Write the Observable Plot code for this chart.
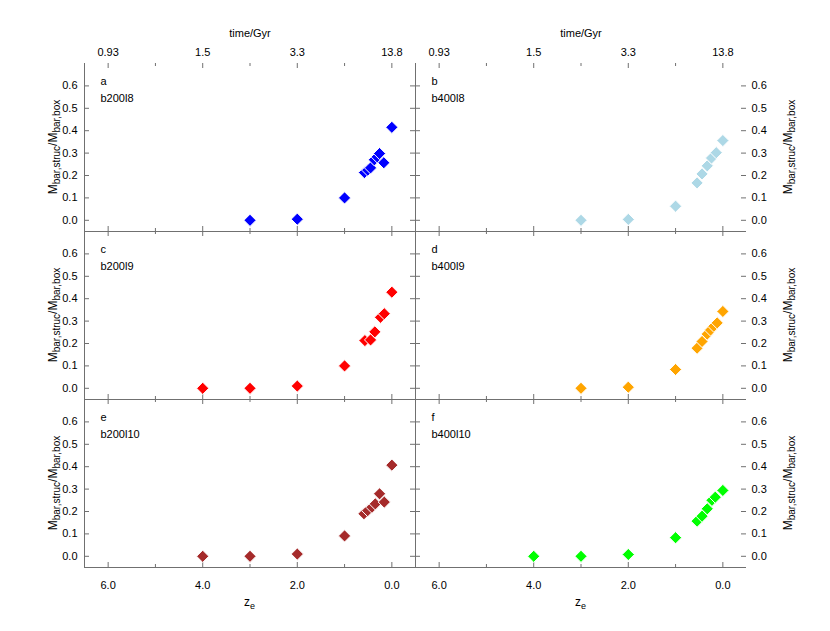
<!DOCTYPE html>
<html><head><meta charset="utf-8">
<script src="https://cdn.jsdelivr.net/npm/d3@7"></script>
<script src="https://cdn.jsdelivr.net/npm/@observablehq/plot@0.6"></script>
<style>
html,body{margin:0;padding:0;background:#fff;}
#chart{position:relative;width:830px;height:631px;overflow:hidden;background:#fff;font-family:"Liberation Sans",Arial,sans-serif;}
#chart svg{position:absolute;overflow:visible;}
</style></head><body><div id="chart"></div>
<script>
// ---- tick definitions ----
const zTicksAll = [6,5,4,3,2,1,0];
const zTicksMajor = [6,4,2,0];
const zTicksMinor = [5,3,1];
const zTickLabels = ["6.0","4.0","2.0","0.0"];
const timeTickLabels = ["0.93","1.5","3.3","13.8"];
const yTicks = [0,0.1,0.2,0.3,0.4,0.5,0.6];

// ---- panels ----
const panelLetters = ["a","b","c","d","e","f"];
const runNames = ["b200l8","b400l8","b200l9","b400l9","b200l10","b400l10"];
const runColors = ["#0000ff","#add8e6","#ff0000","#ffa500","#a52a2a","#00ff00"];

// ---- data: redshift z_e and M_bar,struc/M_bar,box ----
const zB200l8 = [3,2,1,0.58,0.51,0.45,0.37,0.31,0.26,0.17,0];
const fB200l8 = [0.0,0.005,0.10,0.213,0.224,0.234,0.27,0.283,0.298,0.257,0.415];
const zB400l8 = [3,2,1,0.545,0.44,0.33,0.24,0.14,0];
const fB400l8 = [0.0,0.004,0.063,0.167,0.207,0.243,0.278,0.302,0.356];
const zB200l9 = [4,3,2,1,0.57,0.45,0.36,0.24,0.16,0];
const fB200l9 = [0.0,0.0,0.01,0.10,0.213,0.216,0.252,0.317,0.333,0.429];
const zB400l9 = [3,2,1,0.545,0.44,0.33,0.26,0.19,0.12,0];
const fB400l9 = [0.0,0.005,0.084,0.179,0.209,0.242,0.26,0.277,0.292,0.343];
const zB200l10 = [4,3,2,1,0.59,0.51,0.42,0.35,0.26,0.16,0];
const fB200l10 = [0.0,0.0,0.01,0.091,0.19,0.204,0.219,0.234,0.279,0.242,0.407];
const zB400l10 = [4,3,2,1,0.545,0.44,0.33,0.23,0.16,0];
const fB400l10 = [0.0,0.0,0.008,0.083,0.157,0.179,0.212,0.25,0.264,0.294];

const zSeries = [zB200l8,zB400l8,zB200l9,zB400l9,zB200l10,zB400l10];
const fSeries = [fB200l8,fB400l8,fB200l9,fB400l9,fB200l10,fB400l10];

const W = 331, H = 168;
const AX = "#707070";
const FONT = '"Liberation Sans", Arial, sans-serif';
const chart = document.getElementById("chart");

function addYTitle(svg, x, y) {
  const t = d3.select(svg).append("text")
    .attr("transform", `translate(${x},${y}) rotate(-90)`)
    .attr("text-anchor", "middle").attr("font-size", 12)
    .attr("font-family", FONT).attr("fill", "#000");
  t.append("tspan").text("M");
  t.append("tspan").attr("font-size", 10).attr("dy", 3).text("bar,struc");
  t.append("tspan").attr("dy", -3).text("/M");
  t.append("tspan").attr("font-size", 10).attr("dy", 3).text("bar,box");
}

function addXTitle(svg, x, y) {
  const t = d3.select(svg).append("text")
    .attr("x", x).attr("y", y)
    .attr("text-anchor", "middle").attr("font-size", 12)
    .attr("font-family", FONT).attr("fill", "#000");
  t.append("tspan").text("z");
  t.append("tspan").attr("font-size", 9).attr("dy", 3).text("e");
}

for (let i = 0; i < 6; i++) {
  const col = i % 2, row = Math.floor(i / 2);
  const mL = col === 0 ? 84 : 0;
  const mR = col === 1 ? 83 : 0;
  const mT = row === 0 ? 63 : 0;
  const mB = row === 2 ? 64 : 0;
  const data = zSeries[i].map((z, k) => ({z, f: fSeries[i][k]}));

  const marks = [
    // frame lines
    Plot.ruleY([-0.05], {stroke: AX}),
    col === 0 ? Plot.ruleX([6.5], {stroke: AX}) : null,
    col === 0 ? Plot.ruleX([-0.5], {stroke: AX}) : Plot.ruleX([6.5], {stroke: AX}),
    // inward ticks
    Plot.tickY(yTicks, {y: d => d, insetRight: W - 5, stroke: AX}),
    Plot.tickY(yTicks, {y: d => d, insetLeft: W - 5, stroke: AX}),
    Plot.tickX(zTicksMajor, {x: d => d, insetBottom: H - 5, stroke: AX}),
    Plot.tickX(zTicksMinor, {x: d => d, insetBottom: H - 3, stroke: AX}),
    Plot.tickX(zTicksMajor, {x: d => d, insetTop: H - 5, stroke: AX}),
    Plot.tickX(zTicksMinor, {x: d => d, insetTop: H - 3, stroke: AX}),
    // y tick labels
    col === 0
      ? Plot.axisY({anchor: "left", ticks: yTicks, tickFormat: d3.format(".1f"), tickSize: 0, tickPadding: 7, label: null})
      : Plot.axisY({anchor: "right", ticks: yTicks, tickFormat: d3.format(".1f"), tickSize: 0, tickPadding: 5, label: null}),
    // top time axis
    row === 0 ? Plot.axisX({anchor: "top", ticks: zTicksMajor, tickFormat: d => timeTickLabels[zTicksMajor.indexOf(d)], tickSize: 0, tickPadding: 8, label: null}) : null,
    row === 0 ? Plot.text(["time/Gyr"], {text: d => d, frameAnchor: "top", dy: -30.5, lineAnchor: "middle"}) : null,
    // bottom redshift axis
    row === 2 ? Plot.axisX({anchor: "bottom", ticks: zTicksMajor, tickFormat: d => zTickLabels[zTicksMajor.indexOf(d)], tickSize: 0, tickPadding: 14, label: null}) : null,
    // panel labels
    Plot.text([panelLetters[i]], {text: d => d, frameAnchor: "top-left", dx: 16, dy: 18, lineAnchor: "middle", textAnchor: "start"}),
    Plot.text([runNames[i]], {text: d => d, frameAnchor: "top-left", dx: 16, dy: 34.5, lineAnchor: "middle", textAnchor: "start"}),
    // data
    Plot.dot(data, {x: "z", y: "f", symbol: "diamond2", r: 5.5, fill: runColors[i], stroke: "white", strokeWidth: 1})
  ].filter(Boolean);

  const svg = Plot.plot({
    width: W + mL + mR,
    height: H + mT + mB,
    marginLeft: mL, marginRight: mR, marginTop: mT, marginBottom: mB,
    x: {domain: [6.5, -0.5], axis: null},
    y: {domain: [-0.05, 0.7], axis: null},
    style: {fontFamily: FONT, fontSize: "11px", background: "transparent", overflow: "visible", color: "#000"},
    marks
  });
  svg.style.left = (col === 0 ? 0 : 415) + "px";
  svg.style.top = (row === 0 ? 0 : 63 + row * H) + "px";
  chart.appendChild(svg);

  const cy = mT + H / 2;
  if (col === 0) addYTitle(svg, 57, cy);
  else addYTitle(svg, W + 46, cy);
  if (row === 2) addXTitle(svg, mL + W / 2, H + 39);
}
</script></body></html>
